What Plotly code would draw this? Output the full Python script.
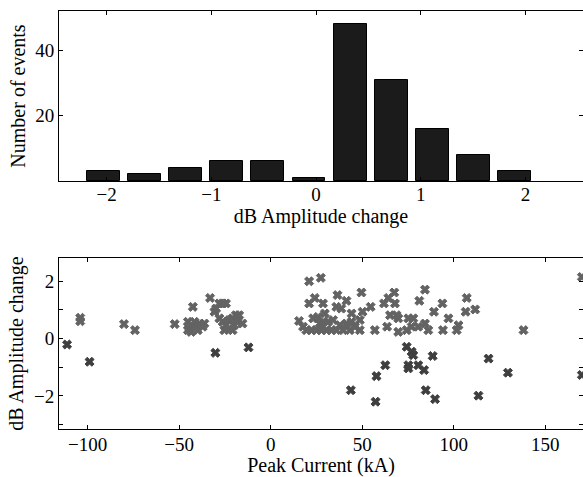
import plotly.graph_objects as go

# ---- histogram data ----
bin_centers = [-2.03, -1.637, -1.245, -0.852, -0.46, -0.067, 0.326, 0.718, 1.111, 1.503, 1.896]
counts = [3, 2, 4, 6, 6, 1, 48, 31, 16, 8, 3]

# ---- scatter data ----
peak_current = [
    -111.2, -104, -104, -98.9, -80.1, -74.1, -52.4, -45.2, -44.3, -43.4, -41.6, -40.7,
    -38.9, -37.1, -42.5, -45.2, -39.8, -36.2, -33.1, -29.8, -28, -26.2, -24.4, -30.7,
    -28, -26.2, -24.4, -22.6, -20.8, -22.6, -20.8, -19, -17.2, -18.1, -15.4, -25.3,
    -19.9, -30.2, -12.1, 15.5,
    21.0, 27.4, 49.6, 36.5, 41.4, 24.1, 21, 28.6, 35.9, 38.6, 44.2, 50.2, 54.6, 61.9,
    64.3, 67.5, 67.9, 81.2, 84.3, 93.8, 89.2, 97.1, 106.5, 107.1, 111.7, 65.2, 68.8, 69.7,
    17.7, 19.5, 22.3, 23.2, 25, 26.8, 27.7, 29.6, 30.5, 31.4, 33.2, 34.1, 35.9, 37.8,
    39.6, 41.4, 43.2, 44.2, 46, 48.7, 48.7, 56.9, 63.6, 69.7, 74.3, 75.2, 77.9, 77,
    80.6, 84.3, 86.1, 94.1, 101.6, 102.6, 138.1, 25.9, 28.6,
    74.3, 77, 77.9, 75.2, 75.2, 80.6, 83.8, 62.6, 57.8, 43.8, 57.3, 84.7, 89.8, 88.5,
    119, 129.6, 113.5,
    170, 170,
]
amp_change = [
    -0.21, 0.72, 0.60, -0.81, 0.50, 0.29, 0.50, 0.58, 0.35, 0.23, 0.58, 0.41,
    0.52, 0.41, 1.10, 0.29, 0.29, 0.52, 1.41, 1.04, 1.22, 1.22, 1.22, 0.93,
    0.70, 0.58, 0.46, 0.35, 0.29, 0.64, 0.70, 0.81, 0.81, 0.58, 0.52, 0.29,
    0.46, -0.50, -0.31, 0.61,
    1.99, 2.11, 1.60, 1.51, 1.31, 1.41, 1.22, 1.22, 1.10, 1.04, 0.87, 0.93, 1.10, 1.22,
    1.41, 1.60, 1.22, 1.31, 1.70, 1.22, 0.93, 0.70, 0.93, 1.41, 1.01, 0.81, 0.81, 0.70,
    0.41, 0.29, 0.29, 0.70, 0.29, 0.52, 0.29, 0.87, 0.29, 0.58, 0.29, 0.64, 0.29, 0.46,
    0.29, 0.52, 0.29, 0.58, 0.41, 0.29, 0.64, 0.29, 0.41, 0.23, 0.29, 0.70, 0.70, 0.41,
    0.41, 0.52, 0.29, 0.29, 0.29, 0.46, 0.29, 0.75, 0.58,
    -0.29, -0.46, -0.58, -0.93, -1.04, -0.93, -1.10, -0.93, -1.31, -1.80, -2.20, -1.80, -2.11, -0.61,
    -0.70, -1.19, -1.99,
    2.14, -1.27,
]

POS_COLOR = "#636363"
NEG_COLOR = "#3f3f3f"
marker_colors = [NEG_COLOR if v < 0 else POS_COLOR for v in amp_change]

FONT = "Liberation Serif, Times New Roman, serif"
FS = 19
TFS = 20

fig = go.Figure()

fig.add_trace(go.Bar(
    x=bin_centers, y=counts, width=0.314,
    marker=dict(color="#1b1b1b", line=dict(color="#000000", width=1)),
    xaxis="x", yaxis="y", showlegend=False,
))

fig.add_trace(go.Scatter(
    x=peak_current, y=amp_change, mode="markers",
    marker=dict(symbol="x", size=8, color=marker_colors,
                line=dict(width=1, color=marker_colors)),
    xaxis="x2", yaxis="y2", showlegend=False,
))

axis_common = dict(
    showline=True, linecolor="black", linewidth=1, mirror="ticks",
    ticks="inside", ticklen=4, tickwidth=1, tickcolor="black",
    showgrid=False, zeroline=False,
    tickfont=dict(family=FONT, size=FS, color="black"),
    automargin=False,
)

fig.update_layout(
    width=583, height=477,
    margin=dict(l=0, r=0, t=0, b=0),
    paper_bgcolor="white", plot_bgcolor="white",
    font=dict(family=FONT, size=FS, color="black"),
    bargap=0,
    xaxis=dict(
        domain=[59 / 583, 1], anchor="y", range=[-2.455, 2.55],
        tickvals=[-2, -1, 0, 1, 2], ticklabelstandoff=-4,
        title=dict(text="dB Amplitude change", font=dict(family=FONT, size=TFS), standoff=0),
        **axis_common,
    ),
    yaxis=dict(
        domain=[1 - 181 / 477, 1 - 11 / 477], anchor="x", range=[0, 52],
        tickvals=[0, 20, 40], ticktext=["", "20", "40"],
        title=dict(text="Number of events", font=dict(family=FONT, size=TFS), standoff=4),
        **axis_common,
    ),
    xaxis2=dict(
        domain=[59 / 583, 1], anchor="y2", range=[-115.6, 170.6],
        tickvals=[-100, -50, 0, 50, 100, 150], ticklabelstandoff=-2,
        title=dict(text="Peak Current (kA)", font=dict(family=FONT, size=TFS), standoff=0),
        **axis_common,
    ),
    yaxis2=dict(
        domain=[1 - 429 / 477, 1 - 258.3 / 477], anchor="x2", range=[-3.15, 2.79],
        tickvals=[-3, -2, -1, 0, 1, 2], ticktext=["", "−2", "", "0", "", "2"],
        title=dict(text="dB Amplitude change", font=dict(family=FONT, size=TFS), standoff=4),
        **axis_common,
    ),
)

fig.write_html(
    "out.html",
    config={"displayModeBar": False},
    post_script="document.body.style.margin='0';document.body.style.overflow='hidden';",
)
